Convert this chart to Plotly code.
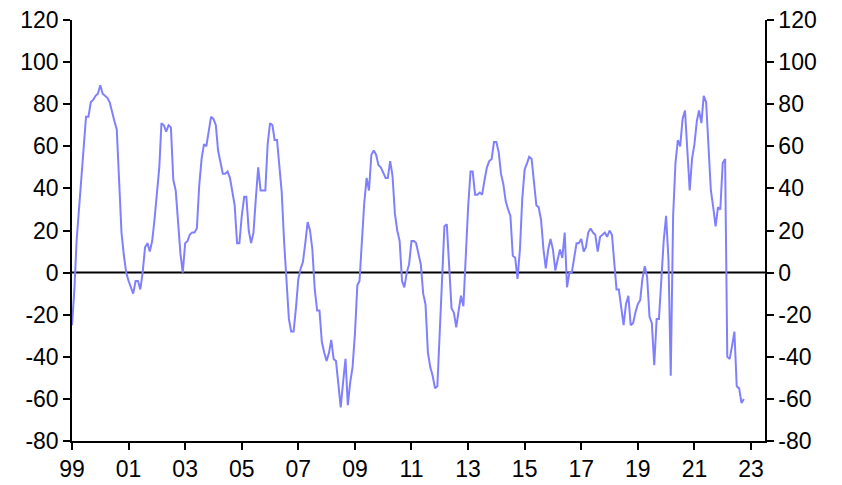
import pandas as pd
import plotly.graph_objects as go

start_month = "1999-01-01"
values = [
    -25, -8, 15, 30, 44, 58, 74, 74, 81, 82, 84, 85,
    89, 85, 84, 83, 81, 76, 72, 68, 41, 19, 8, 0,
    -4, -7, -10, -4, -4, -8, 0, 12, 14, 10, 15, 25,
    38, 50, 71, 70, 67, 70, 69, 44, 39, 25, 9, 0,
    14, 15, 18, 19, 19, 21, 41, 54, 61, 60, 67, 74,
    73, 70, 58, 52, 47, 47, 48, 45, 39, 32, 14, 14,
    27, 36, 36, 20, 14, 19, 35, 50, 39, 39, 39, 61,
    71, 70, 63, 63, 50, 38, 15, -2, -22, -28, -28, -17,
    -3, 2, 5, 14, 24, 20, 11, -8, -18, -18, -33, -38,
    -42, -38, -32, -41, -42, -53, -64, -52, -41, -63, -52, -45,
    -29, -6, -4, 15, 33, 45, 39, 56, 58, 56, 51, 50,
    47, 45, 45, 53, 46, 28, 20, 15, -4, -7, 0, 4,
    15, 15, 14, 8, 4, -10, -15, -38, -45, -49, -55, -54,
    -30, 0, 22, 23, 6, -17, -19, -26, -18, -11, -16, 10,
    31, 48, 48, 37, 37, 38, 37, 44, 50, 53, 54, 62,
    62, 57, 47, 42, 34, 30, 27, 8, 7, -3, 11, 35,
    49, 52, 55, 54, 42, 32, 31, 25, 11, 2, 11, 16,
    11, 1, 6, 11, 7, 19, -7, 0, 0, 7, 14, 14,
    16, 10, 12, 19, 21, 19, 18, 10, 17, 18, 19, 17,
    20, 18, 6, -8, -8, -16, -25, -15, -11, -25, -24, -19,
    -15, -13, -3, 3, -2, -21, -24, -44, -22, -22, -2, 15,
    27, 6, -49, 27, 52, 63, 60, 73, 77, 55, 39, 54,
    61, 72, 77, 71, 84, 81, 62, 39, 31, 22, 31, 30,
    52, 54, -40, -41, -35, -28, -54, -55, -62, -60,
]
y_ticks = [-80, -60, -40, -20, 0, 20, 40, 60, 80, 100, 120]
y_tick_labels = ["-80", "-60", "-40", "-20", "0", "20", "40", "60", "80", "100", "120"]
x_range = ["1999-01-01", "2023-07-01"]

dates = pd.date_range(start_month, periods=len(values), freq="MS")

fig = go.Figure()
fig.add_trace(go.Scatter(
    x=dates, y=values, mode="lines",
    line=dict(color="#8080ff", width=2),
    showlegend=False, hoverinfo="skip",
))
fig.add_trace(go.Scatter(
    x=[dates[0]], y=[values[0]], yaxis="y2", mode="lines",
    line=dict(color="rgba(0,0,0,0)"), showlegend=False, hoverinfo="skip",
))

font = dict(family="Liberation Sans, Arial, sans-serif", size=23, color="black")
yaxis_common = dict(
    range=[-80, 120], tickvals=y_ticks, ticktext=y_tick_labels,
    ticks="outside", ticklen=7,
    tickwidth=1.5, tickcolor="black", showline=True, linecolor="black",
    linewidth=1.5, showgrid=False, tickfont=font, zeroline=False,
    automargin=False, ticklabeloverflow="allow",
)
fig.update_layout(
    width=834, height=477,
    margin=dict(l=64, r=77, t=12, b=44),
    paper_bgcolor="white", plot_bgcolor="white",
    font=font,
    xaxis=dict(
        type="date", range=x_range, tick0="1999-01-01", dtick="M24",
        tickformat="%y", ticks="outside", ticklen=7, tickwidth=1.5,
        tickcolor="black", showline=True, linecolor="black", linewidth=1.5,
        showgrid=False, tickfont=font, zeroline=False, automargin=False,
        ticklabeloverflow="allow",
    ),
    yaxis=dict(side="left", **yaxis_common),
    yaxis2=dict(side="right", overlaying="y", **yaxis_common),
    shapes=[dict(type="line", xref="paper", x0=0, x1=1, yref="y", y0=0, y1=0,
                 line=dict(color="black", width=2), layer="below")],
)
fig.write_html("out.html")
